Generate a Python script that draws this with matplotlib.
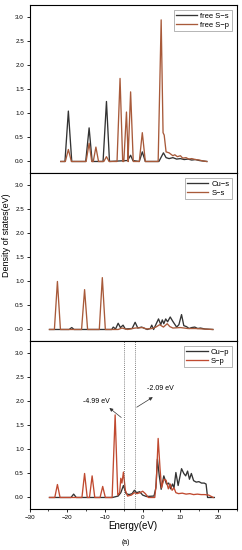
import matplotlib
matplotlib.use("Agg")
import matplotlib.pyplot as plt
from matplotlib.ticker import MultipleLocator

plt.rcParams['font.family'] = ['Liberation Sans', 'DejaVu Sans']

# ---- panel 1: free S ----
e_free_s = [-21.7, -20.6, -19.7, -18.8, -15.1, -14.2, -13.4, -10.5, -9.6, -8.8,
            -4.0, -3.2, -2.6, -0.9, -0.1, 0.7, 4.3, 5.5, 6.2, 7.0, 8.0, 9.0,
            10.0, 11.0, 12.0, 13.0, 14.0, 15.0, 16.0, 17.0]
dos_free_s = [0, 0, 1.05, 0, 0, 0.7, 0, 0, 1.25, 0,
              0.02, 0.13, 0.02, 0, 0.2, 0, 0, 0.18, 0.08, 0.06, 0.08, 0.05,
              0.06, 0.04, 0.05, 0.03, 0.04, 0.02, 0.01, 0]
e_free_p = [-21.7, -20.5, -19.7, -18.9, -15.0, -14.2, -13.5, -13.1, -12.4, -11.7,
            -10.3, -9.6, -8.9, -6.8, -6.0, -5.3, -5.0, -4.3, -3.8, -3.9, -3.2,
            -2.5, -0.9, -0.1, 0.7, 4.1, 4.9, 5.4, 5.7, 6.2, 7.0, 7.5, 8.0, 8.5,
            9.2, 10.0, 10.6, 11.5, 12.2, 13.0, 14.0, 15.0, 16.0, 17.0]
dos_free_p = [0, 0, 0.25, 0, 0, 0.38, 0, 0, 0.3, 0,
              0, 0.1, 0, 0, 1.73, 0, 0, 1.03, 0, 0, 1.45,
              0, 0, 0.6, 0, 0, 2.95, 0.6, 0.55, 0.2, 0.18, 0.15, 0.12, 0.14,
              0.1, 0.12, 0.07, 0.08, 0.05, 0.06, 0.04, 0.03, 0.01, 0]

# ---- panel 2: Cu-s / S-s ----
e_cu_s = [-24.7, -19.5, -18.8, -18.2, -8.2, -7.8, -7.2, -6.5, -5.9, -5.2, -4.6,
          -2.8, -2.0, -1.3, -0.3, 1.2, 2.0, 2.4, 2.9, 3.6, 4.2, 4.8, 5.2, 5.6,
          6.1, 6.6, 7.3, 7.9, 8.4, 9.0, 9.6, 10.3, 10.9, 11.6, 12.3, 13.0, 13.8,
          14.6, 15.3, 16.5, 18.6]
dos_cu_s = [0, 0, 0.04, 0, 0, 0.05, 0.01, 0.13, 0.04, 0.09, 0.01,
            0.02, 0.15, 0.03, 0.05, 0, 0.02, 0.09, 0, 0.12, 0.22, 0.1, 0.2, 0.12,
            0.22, 0.16, 0.26, 0.18, 0.12, 0.05, 0.1, 0.31, 0.08, 0.06, 0.02, 0.04, 0.05,
            0.02, 0.03, 0.01, 0]
e_s_s = [-24.7, -23.4, -22.6, -21.8, -16.2, -15.4, -14.6, -11.5, -10.7, -9.9,
         -6.5, -5.5, -4.0, -2.0, 0.0, 1.0, 2.5, 3.5, 4.5, 5.5, 6.5, 7.2, 8.0,
         10.0, 12.0, 14.0, 16.0, 18.6]
dos_s_s = [0, 0, 1.0, 0, 0, 0.83, 0, 0, 1.08, 0,
           0, 0.03, 0, 0.03, 0.04, 0.01, 0.02, 0.05, 0.1, 0.05, 0.12, 0.06, 0.03,
           0.04, 0.02, 0.02, 0.01, 0]

# ---- panel 3: Cu-p / S-p ----
e_cu_p = [-24.7, -19.0, -18.3, -17.6, -8.0, -6.5, -5.8, -5.1, -4.4, -3.6, -2.8,
          -2.2, -1.6, -0.8, 0.0, 1.0, 3.0, 3.5, 3.9, 4.4, 4.9, 5.6, 6.3, 6.9,
          7.4, 7.9, 8.3, 8.8, 9.4, 10.3, 10.9, 11.4, 11.9, 12.4, 12.9, 13.5,
          14.2, 14.9, 15.6, 16.3, 16.8, 17.2, 19.0]
dos_cu_p = [0, 0, 0.07, 0, 0, 0.03, 0.1, 0.25, 0.08, 0.06, 0.08,
            0.15, 0.1, 0.12, 0.05, 0.02, 0.03, 0.2, 0.8, 0.45, 0.17, 0.45, 0.28, 0.3,
            0.18, 0.28, 0.2, 0.52, 0.25, 0.6, 0.5, 0.45, 0.55, 0.38, 0.5, 0.35,
            0.32, 0.33, 0.3, 0.3, 0.28, 0.0, 0]
e_s_p = [-24.7, -23.3, -22.6, -21.9, -16.1, -15.4, -14.7, -14.1, -13.4, -12.7,
         -11.3, -10.6, -9.9, -8.1, -7.3, -6.6, -6.1, -5.8, -5.5, -5.1, -4.6,
         -4.0, -3.0, -2.2, -1.5, -0.7, 0.0, 0.7, 1.5, 3.2, 3.6, 4.1, 4.6, 5.0,
         5.6, 6.2, 6.8, 7.3, 7.8, 8.3, 8.8, 9.5, 10.5, 11.5, 12.5, 13.5, 14.5,
         15.5, 16.5, 17.5, 18.7]
dos_s_p = [0, 0, 0.27, 0, 0, 0.5, 0, 0, 0.45, 0,
           0, 0.23, 0, 0, 1.72, 0.05, 0.1, 0.4, 0.3, 0.53, 0.15,
           0.03, 0.05, 0.1, 0.08, 0.1, 0.13, 0.08, 0, 0, 0.3, 1.23, 0.6, 0.2,
           0.38, 0.36, 0.18, 0.28, 0.15, 0.2, 0.1, 0.08, 0.09, 0.07, 0.08, 0.06, 0.07,
           0.06, 0.06, 0.05, 0]

fermi_lines = [-4.99, -2.09]

dark = '#333333'
brown = '#a85a3a'
red = '#c04a30'

fig = plt.figure(figsize=(2.42, 5.5), dpi=100)
left, right = 29.5 / 242, 237 / 242
tops = [5, 173, 341]
h = 168
axes = []
for t in tops:
    ax = fig.add_axes([left, 1 - (t + h) / 550, right - left, h / 550])
    axes.append(ax)

panels = [
    (e_free_s, dos_free_s, 'free S\u2212s', e_free_p, dos_free_p, 'free S\u2212p', brown),
    (e_cu_s, dos_cu_s, 'Cu\u2212s', e_s_s, dos_s_s, 'S\u2212s', brown),
    (e_cu_p, dos_cu_p, 'Cu\u2212p', e_s_p, dos_s_p, 'S\u2212p', red),
]

for ax, (e1, d1, l1, e2, d2, l2, c2) in zip(axes, panels):
    ax.plot(e1, d1, color=dark, lw=0.95, label=l1)
    ax.plot(e2, d2, color=c2, lw=0.95, label=l2)
    ax.set_xlim(-30, 25)
    ax.set_ylim(-0.24, 3.26)
    ax.yaxis.set_major_locator(MultipleLocator(0.5))
    ax.xaxis.set_major_locator(MultipleLocator(10))
    ax.xaxis.set_minor_locator(MultipleLocator(5))
    ax.tick_params(labelsize=4.5, width=0.6, length=2.5, direction='out', pad=1.5)
    ax.tick_params(which='minor', width=0.5, length=1.5, direction='out')
    for s in ax.spines.values():
        s.set_linewidth(0.8)
    leg = ax.legend(loc='upper right', fontsize=5.5, handlelength=2.8,
                    borderpad=0.3, labelspacing=0.2, handletextpad=0.4,
                    fancybox=False, framealpha=1, edgecolor='#999999',
                    borderaxespad=0.7)
    leg.get_frame().set_linewidth(0.5)

for ax in axes[:2]:
    ax.tick_params(labelbottom=False)

ax3 = axes[2]
for x in fermi_lines:
    ax3.axvline(x, color='#555555', lw=0.6, ls=(0, (1, 1.5)))

ax3.annotate('-4.99 eV', xy=(-9.4, 1.9), xytext=(-12.3, 2.0),
             fontsize=5, ha='center', va='center')
ax3.annotate('', xy=(-9.4, 1.9), xytext=(-5.1, 1.63),
             arrowprops=dict(arrowstyle='-|>', color='#333333', lw=0.5,
                             mutation_scale=5))
ax3.annotate('-2.09 eV', xy=(3.3, 2.1), xytext=(4.8, 2.27),
             fontsize=5, ha='center', va='center')
ax3.annotate('', xy=(3.3, 2.12), xytext=(-2.2, 1.85),
             arrowprops=dict(arrowstyle='-|>', color='#333333', lw=0.5,
                             mutation_scale=5))

ax3.set_xlabel('Energy(eV)', fontsize=7, labelpad=1)
fig.text(7 / 242, 1 - 235 / 550, 'Density of states(eV)', rotation=90,
         fontsize=6.5, ha='center', va='center')
fig.text(0.5 + 5 / 242, 1 - 542 / 550, '(a)', fontsize=5, ha='center', va='center')

fig.savefig('out.png', dpi=100)
